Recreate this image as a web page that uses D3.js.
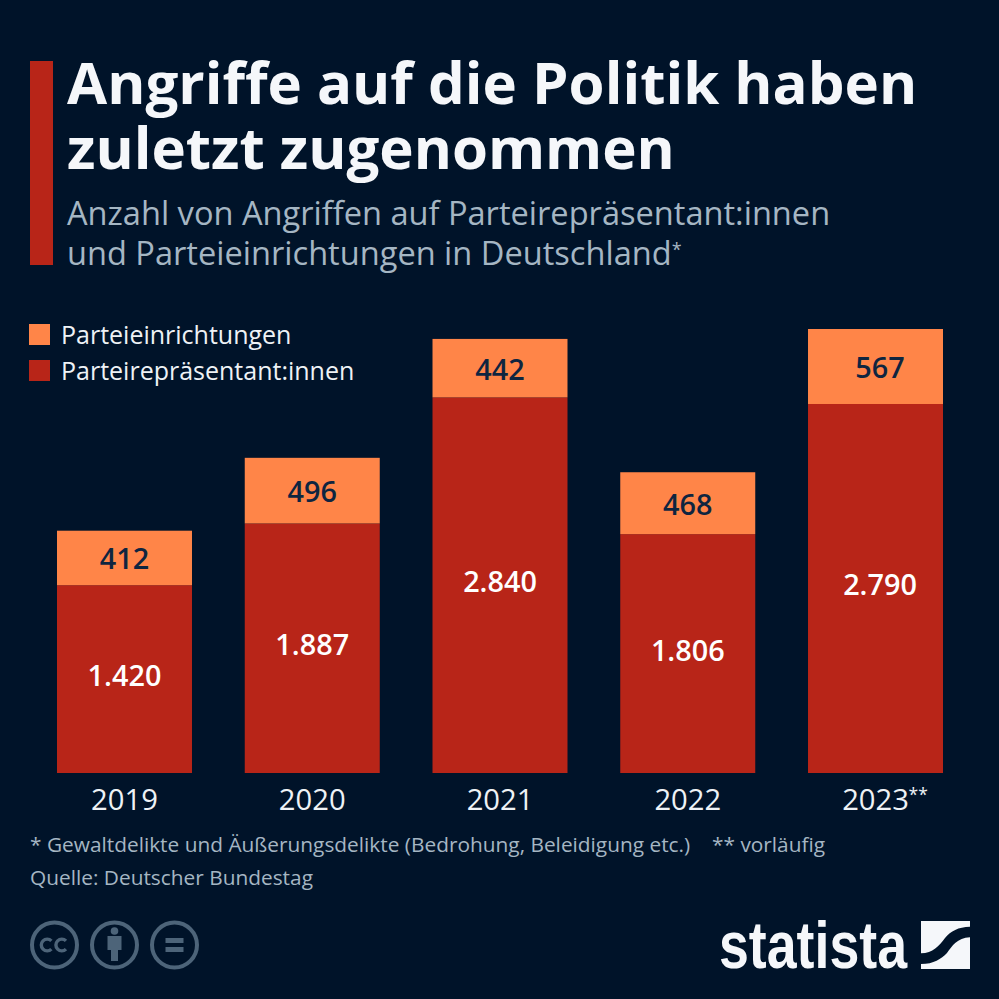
<!DOCTYPE html>
<html>
<head>
<meta charset="utf-8">
<script src="https://cdn.jsdelivr.net/npm/d3@7"></script>
<style>
  html, body { margin: 0; padding: 0; background: #001329; }
  svg { display: block; }
  text { font-family: "Open Sans", sans-serif; }
</style>
</head>
<body>
<svg id="chart" width="999" height="999"></svg>
<script>
// values
const years = ['2019', '2020', '2021', '2022', '2023'];
const yearMarks = ['', '', '', '', '**'];
const repraesentanten = [1420, 1887, 2840, 1806, 2790];
const einrichtungen = [412, 496, 442, 468, 567];
const seriesNames = ['Parteieinrichtungen', 'Parteirepräsentant:innen'];
const titleLines = ['Angriffe auf die Politik haben', 'zuletzt zugenommen'];
const subtitleLines = ['Anzahl von Angriffen auf Parteirepräsentant:innen', 'und Parteieinrichtungen in Deutschland'];

const RED = '#b82518', ORANGE = '#ff8548', BG = '#001329', GREY = '#a5b6c3';
const fmt = v => d3.format(',')(v).replace(',', '.');

const svg = d3.select('#chart');
svg.append('rect').attr('width', 999).attr('height', 999).attr('fill', BG);

// header
svg.append('rect').attr('x', 30).attr('y', 61).attr('width', 23).attr('height', 204).attr('fill', RED);
svg.selectAll('.title').data(titleLines).enter().append('text')
  .attr('class', 'title')
  .attr('x', 67).attr('y', (d, i) => 104 + i * 64.5)
  .attr('font-size', 58.2).attr('font-weight', 700).attr('fill', '#f5f7fa')
  .text(d => d);
svg.selectAll('.subtitle').data(subtitleLines).enter().append('text')
  .attr('class', 'subtitle')
  .attr('x', 67).attr('y', (d, i) => 225 + i * 40)
  .attr('font-size', 32.6).attr('fill', GREY)
  .text(d => d)
  .filter((d, i) => i === 1)
  .append('tspan').attr('dy', -9).attr('font-size', 18).text('*');

// scales
const x = d3.scaleBand().domain(years).range([57, 943]).paddingInner(0.281);
const y = d3.scaleLinear().domain([0, 3357]).range([773, 329]);

const table = years.map((year, i) => ({ year, rep: repraesentanten[i], ein: einrichtungen[i] }));
const stacked = d3.stack().keys(['rep', 'ein'])(table);
const colors = { rep: RED, ein: ORANGE };
const labelColors = { rep: '#ffffff', ein: '#0f2540' };
const labelShift = { rep: 7, ein: 11.5 };
const keyOf = node => d3.select(node.parentNode).datum().key;

const groups = svg.selectAll('.series').data(stacked).enter().append('g').attr('class', 'series');
groups.selectAll('rect').data(d => d).enter().append('rect')
  .attr('x', d => x(d.data.year))
  .attr('width', x.bandwidth())
  .attr('y', d => y(d[1]))
  .attr('height', d => y(d[0]) - y(d[1]))
  .attr('fill', function () { return colors[keyOf(this)]; });
groups.selectAll('text').data(d => d).enter().append('text')
  // labels of the marked year sit a little right of the bar centre
  .attr('x', (d, i) => x(d.data.year) + x.bandwidth() / 2 + (yearMarks[i] ? 4.5 : 0))
  .attr('y', function (d) { return (y(d[0]) + y(d[1])) / 2 + labelShift[keyOf(this)]; })
  .attr('text-anchor', 'middle')
  .attr('font-size', 28.8).attr('font-weight', 600)
  .attr('fill', function () { return labelColors[keyOf(this)]; })
  .text(d => fmt(d[1] - d[0]));

// x axis, only the labels are visible
const axis = svg.append('g').attr('transform', 'translate(0,773)')
  .call(d3.axisBottom(x).tickSize(0).tickPadding(15));
axis.select('.domain').remove();
axis.selectAll('text').attr('font-family', '"Open Sans", sans-serif')
  .attr('font-size', 29.2).attr('fill', '#eef2f6').attr('dy', '0.75em');
// the asterisks hang outside the centred year
axis.selectAll('.tick').filter((d, i) => yearMarks[i]).append('text')
  .attr('x', 33).attr('y', 28)
  .attr('text-anchor', 'start')
  .attr('font-family', '"Open Sans", sans-serif')
  .attr('font-size', 17.5).attr('fill', '#eef2f6')
  .text((d) => yearMarks[years.indexOf(d)]);

// legend
const legendColors = [ORANGE, RED];
const legend = svg.selectAll('.legend').data(seriesNames).enter().append('g')
  .attr('class', 'legend')
  .attr('transform', (d, i) => `translate(29,${324 + i * 36})`);
legend.append('rect').attr('width', 21).attr('height', 21).attr('fill', (d, i) => legendColors[i]);
legend.append('text').attr('x', 32).attr('y', 20)
  .attr('font-size', 25).attr('fill', '#eef2f6').text(d => d);

// footnotes
svg.append('text').attr('x', 30).attr('y', 852).attr('font-size', 20.85).attr('fill', GREY)
  .text('* Gewaltdelikte und Äußerungsdelikte (Bedrohung, Beleidigung etc.)');
svg.append('text').attr('x', 712).attr('y', 852).attr('font-size', 20.85).attr('fill', GREY)
  .text('** vorläufig');
svg.append('text').attr('x', 30).attr('y', 885).attr('font-size', 20.85).attr('fill', GREY)
  .text('Quelle: Deutscher Bundestag');

// cc icons
const ICON = '#4d6479';
const icons = svg.selectAll('.icon').data([54.5, 114.5, 174.5]).enter().append('g')
  .attr('class', 'icon')
  .attr('transform', d => `translate(${d},945)`);
icons.append('circle').attr('r', 22.5).attr('fill', 'none').attr('stroke', ICON).attr('stroke-width', 4);
const cc = d3.select(icons.nodes()[0]);
[-7.3, 7.3].forEach(dx => {
  cc.append('path')
    .attr('d', d3.arc().innerRadius(4.2).outerRadius(7.6).startAngle(Math.PI * 0.75).endAngle(Math.PI * 2.25)())
    .attr('transform', `translate(${dx},0)`)
    .attr('fill', ICON);
});
const by = d3.select(icons.nodes()[1]);
by.append('circle').attr('cy', -14).attr('r', 3.8).attr('fill', ICON);
by.append('path').attr('d', 'M-7,-9H7V5H3.5V16H-3.5V5H-7Z').attr('fill', ICON);
const eq = d3.select(icons.nodes()[2]);
eq.append('rect').attr('x', -9).attr('y', -7).attr('width', 18).attr('height', 5).attr('fill', ICON);
eq.append('rect').attr('x', -9).attr('y', 2).attr('width', 18).attr('height', 5).attr('fill', ICON);

// statista logo
svg.append('text').attr('x', 719).attr('y', 968)
  .style('font-family', '"Liberation Sans Narrow", sans-serif')
  .attr('font-size', 66).attr('font-weight', 700).attr('fill', '#f5f7fa')
  .attr('textLength', 188).attr('lengthAdjust', 'spacingAndGlyphs')
  .text('statista');
svg.append('path')
  .attr('fill', '#f5f7fa')
  .attr('d', 'M921,921H970V926.7C958,927 951,931 945,938C939,946 933,953 921,953.3Z M970,937.3V969H921V964C934,964 941,959 947,953C952,946 957,938 970,937.3Z');
</script>
</body>
</html>
